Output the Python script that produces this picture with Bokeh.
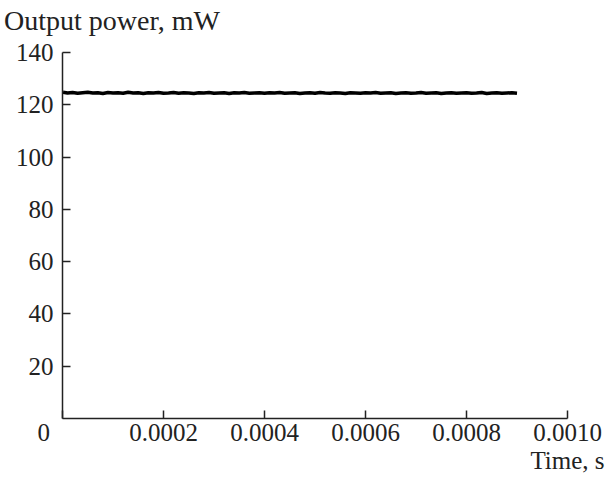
from bokeh.plotting import figure
from bokeh.models import FixedTicker, Range1d, Div
from bokeh.layouts import column
from bokeh.embed import file_html
from bokeh.resources import INLINE

# data
time_us = [1, 10, 20, 30, 40, 50, 60, 70, 80, 90, 100, 110, 120, 130, 140, 150,
           160, 170, 180, 190, 200, 210, 220, 230, 240, 250, 260, 270, 280, 290,
           300, 310, 320, 330, 340, 350, 360, 370, 380, 390, 400, 410, 420, 430,
           440, 450, 460, 470, 480, 490, 500, 510, 520, 530, 540, 550, 560, 570,
           580, 590, 600, 610, 620, 630, 640, 650, 660, 670, 680, 690, 700, 710,
           720, 730, 740, 750, 760, 770, 780, 790, 800, 810, 820, 830, 840, 850,
           860, 870, 880, 890, 900]
power_mw = [124.8, 124.5, 124.7, 124.4, 124.6, 124.8, 124.5, 124.6, 124.3, 124.7,
            124.5, 124.6, 124.4, 124.8, 124.5, 124.6, 124.3, 124.6, 124.5, 124.7,
            124.4, 124.5, 124.7, 124.4, 124.6, 124.5, 124.3, 124.6, 124.5, 124.7,
            124.4, 124.5, 124.6, 124.3, 124.6, 124.5, 124.7, 124.4, 124.5, 124.6,
            124.4, 124.6, 124.5, 124.7, 124.4, 124.5, 124.6, 124.3, 124.5, 124.6,
            124.4, 124.7, 124.5, 124.4, 124.6, 124.5, 124.3, 124.6, 124.5, 124.4,
            124.6, 124.5, 124.7, 124.4, 124.5, 124.6, 124.3, 124.5, 124.6, 124.4,
            124.5, 124.7, 124.4, 124.5, 124.6, 124.3, 124.5, 124.6, 124.4, 124.5,
            124.6, 124.4, 124.5, 124.7, 124.3, 124.5, 124.6, 124.4, 124.5, 124.6,
            124.4]
time_s = [t * 1e-6 for t in time_us]
y_ticks = [20, 40, 60, 80, 100, 120, 140]
x_ticks = [0.0, 0.0002, 0.0004, 0.0006, 0.0008, 0.0010]
x_tick_labels = ["0" + "\u00a0" * 6, "0.0002", "0.0004", "0.0006", "0.0008", "0.0010\nTime, s"]
y_title = "Output power, mW"

FONT = "Liberation Serif"
COLOR = "#222222"

header = Div(
    text=('<span style="position:relative; left:4px; top:7px; white-space:nowrap; '
          f'font-family:\'{FONT}\'; font-size:28px; line-height:28px; color:{COLOR}">'
          f'{y_title}</span>'),
    width=613, height=38, margin=0, styles={"overflow": "visible"})

p = figure(width=613, height=439, output_backend="svg", toolbar_location=None,
           x_range=Range1d(0, 0.001), y_range=Range1d(0, 140),
           min_border_left=62, min_border_right=46, min_border_top=14, min_border_bottom=59,
           margin=0)
p.outline_line_color = None
p.xgrid.visible = False
p.ygrid.visible = False

p.line(time_s, power_mw, line_color="black", line_width=3.5)

for ax in (p.xaxis[0], p.yaxis[0]):
    ax.major_tick_in = 8
    ax.major_tick_out = 0
    ax.minor_tick_in = 0
    ax.minor_tick_out = 0
    ax.axis_line_width = 1.5
    ax.major_tick_line_width = 1.5
    ax.axis_line_color = COLOR
    ax.major_tick_line_color = COLOR
    ax.major_label_text_font = FONT
    ax.major_label_text_font_size = "25px"
    ax.major_label_text_color = COLOR

p.yaxis[0].ticker = FixedTicker(ticks=y_ticks)
p.yaxis[0].major_label_standoff = 9
p.xaxis[0].ticker = FixedTicker(ticks=x_ticks)
p.xaxis[0].major_label_overrides = {t: s for t, s in zip(x_ticks, x_tick_labels)}
p.xaxis[0].major_label_standoff = 0
p.xaxis[0].major_label_text_line_height = 1.05

layout = column(header, p, spacing=0)
open("out.html", "w").write(file_html(layout, INLINE))
